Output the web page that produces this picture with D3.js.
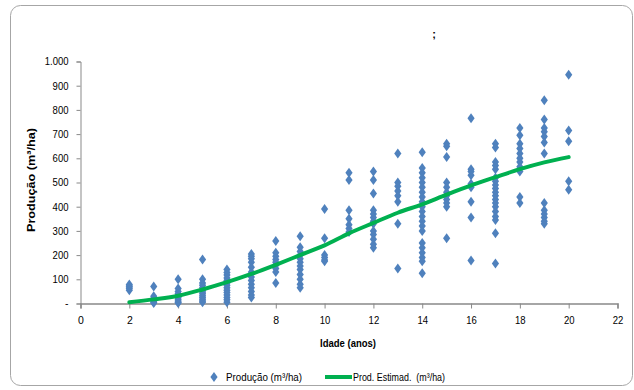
<!DOCTYPE html>
<html><head><meta charset="utf-8">
<script src="https://cdn.jsdelivr.net/npm/d3@7"></script>
<style>
body{margin:0;background:#fff;}
svg text{font-family:"Liberation Sans Narrow","Arial Narrow","Liberation Sans",Arial,sans-serif;fill:#000;}
</style></head>
<body><svg id="c" width="634" height="390"></svg>
<script>
// Produção (m³/ha) observations by age
const ages = [2,3,4,5,6,7,8,9,10,11,12,13,14,15,16,17,18,19,20];
const p2  = [55,62,68,72,78];
const p3  = [70,30,22,15,10,5,2];
const p4  = [100,62,50,40,32,25,18,10,5,2];
const p5  = [182,100,85,75,65,55,48,40,32,25,18,10,5];
const p6  = [140,128,118,105,95,85,75,65,55,45,35,25,15,5];
const p7  = [205,195,185,170,150,130,110,95,80,65,50,35,25];
const p8  = [258,210,195,182,170,158,145,130,85];
const p9  = [278,232,215,200,185,170,155,140,120,100,80,65];
const p10 = [390,270,200,190,180,175];
const p11 = [540,510,385,350,325,310,295];
const p12 = [545,510,455,385,370,355,340,330,300,285,265,245,230];
const p13 = [620,500,485,465,445,420,330,145];
const p14 = [625,560,540,520,500,480,460,440,420,400,380,360,340,320,300,250,230,210,190,175,125];
const p15 = [660,650,605,500,480,460,445,430,415,400,270];
const p16 = [765,555,545,530,495,480,420,355,178];
const p17 = [660,645,585,570,555,520,505,490,475,460,445,430,415,400,380,360,345,290,165];
const p18 = [725,695,660,640,620,600,585,565,545,440,415];
const p19 = [840,760,725,710,690,665,620,415,385,370,355,340,330];
const p20 = [945,715,670,505,470];
const obsByAge = [p2,p3,p4,p5,p6,p7,p8,p9,p10,p11,p12,p13,p14,p15,p16,p17,p18,p19,p20];
// Prod. Estimad. (m³/ha)
const estimad = [5,17,32,58,88,122,160,200,240,290,333,375,410,450,488,522,555,583,605];
const xTicks = [0,2,4,6,8,10,12,14,16,18,20,22];
const yTicks = [0,100,200,300,400,500,600,700,800,900,1000];
const yTickLabels = ["-","100","200","300","400","500","600","700","800","900","1.000"];

const svg = d3.select("#c");
svg.append("rect").attr("x",10.5).attr("y",5.5).attr("width",622).attr("height",380)
  .attr("rx",10).attr("fill","#fff").attr("stroke","#a6a6a6").attr("stroke-width",1);

const x = d3.scaleLinear().domain([0,22]).range([80.5,617.5]);
const y = d3.scaleLinear().domain([0,1000]).range([303.5,61.5]);

function narrow(sel){
  sel.each(function(){
    const t=d3.select(this).text();
    if(t.length>1){
      const w=[...t].reduce((s,c)=>s+(c==="."?2.6:5.3),0);
      d3.select(this).attr("textLength",w).attr("lengthAdjust","spacingAndGlyphs");
    }
  });
}

// axes
const yAxis = d3.axisLeft(y).tickValues(yTicks).tickSize(4).tickPadding(8)
  .tickFormat((d,i)=>yTickLabels[i]);
const gy = svg.append("g").attr("transform","translate(80.5,0)").call(yAxis);
gy.select(".domain").attr("stroke","#898989");
gy.selectAll(".tick line").attr("stroke","#898989");
gy.selectAll("text").style("font-size","10.5px").attr("fill","#000").call(narrow);

const xAxis = d3.axisBottom(x).tickValues(xTicks).tickSize(5).tickPadding(8);
const gx = svg.append("g").attr("transform","translate(0,303.5)").call(xAxis);
gx.select(".domain").attr("stroke","#898989").attr("stroke-width",1.5);
gx.selectAll(".tick line").attr("stroke","#898989");
gx.selectAll("text").style("font-size","10.5px").attr("fill","#000").call(narrow);

// points
const pts = [];
ages.forEach((a,i)=>obsByAge[i].forEach(v=>pts.push([a,v])));
const diamond = "M0,-5L3.6,0L0,5L-3.6,0Z";
svg.append("g").selectAll("path").data(pts).join("path")
  .attr("d",diamond).attr("fill","#4f81bd")
  .attr("transform",d=>`translate(${x(d[0])},${y(d[1])})`);

// estimated line
const line = d3.line().x((d,i)=>x(ages[i])).y(d=>y(d)).curve(d3.curveMonotoneX);
svg.append("path").datum(estimad).attr("d",line).attr("fill","none")
  .attr("stroke","#00b050").attr("stroke-width",4).attr("stroke-linecap","round");

// titles
svg.append("text").attr("x",348).attr("y",347).attr("text-anchor","middle")
  .style("font-size","11px").style("font-weight","bold")
  .attr("textLength",56).attr("lengthAdjust","spacingAndGlyphs").text("Idade (anos)");
svg.append("text").attr("transform","translate(35,180) rotate(-90)").attr("text-anchor","middle")
  .style("font-size","11px").style("font-weight","bold")
  .attr("textLength",104).attr("lengthAdjust","spacingAndGlyphs").text("Produção (m³/ha)");
svg.append("text").attr("x",434).attr("y",38).attr("text-anchor","middle")
  .style("font-size","11px").style("font-weight","bold").text(";");

// legend
svg.append("path").attr("d",diamond).attr("fill","#4f81bd").attr("transform","translate(214,377)");
svg.append("text").attr("x",226).attr("y",381).style("font-size","10.5px")
  .attr("textLength",76).attr("lengthAdjust","spacingAndGlyphs").text("Produção (m³/ha)");
svg.append("line").attr("x1",325).attr("x2",352).attr("y1",377).attr("y2",377)
  .attr("stroke","#00b050").attr("stroke-width",4);
svg.append("text").attr("x",353).attr("y",381).style("font-size","10.5px").attr("xml:space","preserve")
  .attr("textLength",92).attr("lengthAdjust","spacingAndGlyphs").text("Prod. Estimad.  (m³/ha)");
</script></body></html>
